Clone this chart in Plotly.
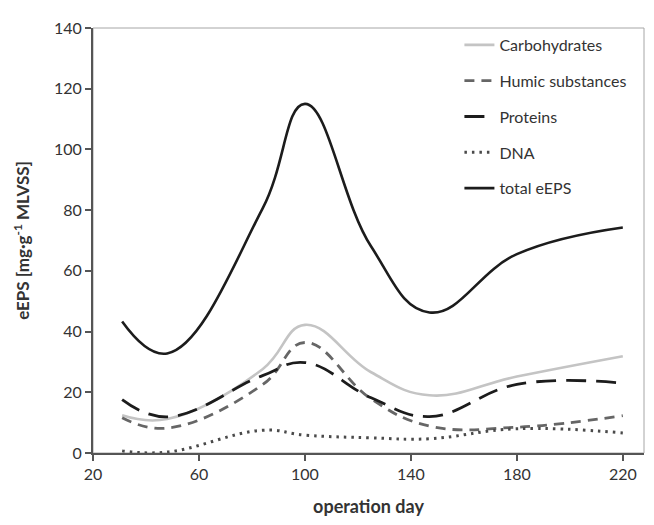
import plotly.graph_objects as go

days = [31, 48, 84, 100, 125, 147, 180, 220]
carbohydrates = [12.4, 11.2, 27.6, 42.2, 26.6, 19.0, 25.2, 31.9]
humic = [11.6, 8.2, 22.5, 36.4, 17.8, 8.9, 8.5, 12.3]
proteins = [17.6, 11.9, 25.5, 29.8, 18.2, 12.0, 22.6, 23.0]
dna = [0.7, 0.3, 7.5, 5.9, 5.0, 4.7, 8.0, 6.6]
total = [43.3, 32.8, 80.5, 115.0, 68.0, 46.3, 65.5, 74.3]

x_ticks = [20, 60, 100, 140, 180, 220]
y_ticks = [0, 20, 40, 60, 80, 100, 120, 140]

FONT = "Lato, 'Open Sans', sans-serif"

series = [
    ("Carbohydrates", carbohydrates, "#c4c4c4", "solid", 2.6),
    ("Humic substances", humic, "#666666", "10px,7px", 2.8),
    ("Proteins", proteins, "#1c1c1c", "20px,10px", 2.8),
    ("DNA", dna, "#4a4a4a", "2.5px,5px", 3),
    ("total eEPS", total, "#1c1c1c", "solid", 2.6),
]

fig = go.Figure()
for i, (name, vals, color, dash, w) in enumerate(series):
    fig.add_trace(go.Scatter(
        x=days, y=vals, name=name, mode="lines",
        line=dict(color=color, dash=dash, width=w, shape="spline", smoothing=1.2),
        legendgroup=f"g{i}",
    ))

# light grey frame (top/right) of plot area
fig.add_shape(type="rect", xref="paper", yref="paper", x0=0, y0=0, x1=1, y1=1,
              line=dict(color="#a6a6a6", width=1), layer="below")

# page body adds an 8px offset; compensate in size and margins
fig.update_layout(
    width=646, height=517,
    margin=dict(l=85, r=10, t=12, b=72),
    paper_bgcolor="white", plot_bgcolor="white",
    font=dict(family=FONT, size=15, color="#333333"),
    showlegend=True,
    legend=dict(
        x=0.665, y=1.0, xanchor="left", yanchor="top",
        bgcolor="rgba(0,0,0,0)", borderwidth=0,
        font=dict(family=FONT, size=16, color="#333333"),
        tracegroupgap=12,
    ),
    xaxis=dict(
        range=[20, 228], tickvals=x_ticks, ticktext=[str(v) for v in x_ticks],
        showgrid=False, zeroline=False,
        showline=True, linecolor="#555555", linewidth=2,
        ticks="outside", ticklen=6, tickcolor="#555555", tickwidth=1.5,
        tickfont=dict(family=FONT, size=16, color="#333333"),
        title=dict(text="<b>operation day</b>", font=dict(family=FONT, size=18, color="#333333"), standoff=18),
    ),
    yaxis=dict(
        range=[0, 140], tickvals=y_ticks, ticktext=[str(v) for v in y_ticks],
        showgrid=False, zeroline=False,
        showline=True, linecolor="#555555", linewidth=2,
        ticks="outside", ticklen=6, tickcolor="#555555", tickwidth=1.5,
        tickfont=dict(family=FONT, size=16, color="#333333"),
        title=dict(text="<b>eEPS [mg·g<sup>-1</sup> MLVSS]</b>", font=dict(family=FONT, size=17, color="#333333"), standoff=20),
    ),
)

fig.write_html("out.html")
